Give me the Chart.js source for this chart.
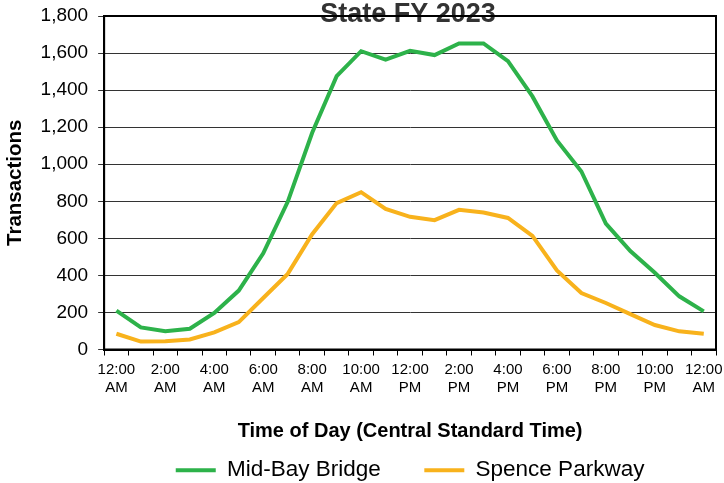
<!DOCTYPE html>
<html>
<head>
<meta charset="utf-8">
<script src="https://cdn.jsdelivr.net/npm/chart.js@4"></script>
<style>
  html, body { margin: 0; padding: 0; background: #fff; }
</style>
</head>
<body>
<canvas id="traffic_chart" width="724" height="483"></canvas>
<script>
// hourly categories, midnight to midnight
const hours = [
  "12:00 AM", "1:00 AM", "2:00 AM", "3:00 AM", "4:00 AM", "5:00 AM",
  "6:00 AM", "7:00 AM", "8:00 AM", "9:00 AM", "10:00 AM", "11:00 AM",
  "12:00 PM", "1:00 PM", "2:00 PM", "3:00 PM", "4:00 PM", "5:00 PM",
  "6:00 PM", "7:00 PM", "8:00 PM", "9:00 PM", "10:00 PM", "11:00 PM",
  "12:00 AM"
];

const midBay = [210, 119, 98, 112, 197, 318, 519, 797, 1170, 1475, 1610, 1565,
  1612, 1589, 1652, 1652, 1556, 1366, 1128, 961, 679, 531, 414, 287, 206];

const spence = [85, 43, 45, 54, 92, 148, 278, 408, 622, 790, 849, 759,
  716, 698, 754, 739, 710, 613, 427, 305, 251, 191, 132, 98, 85];

const yMax = 1800;
const yStep = 200;

const chartTitle = "State FY 2023";

Chart.defaults.font.family = "'Liberation Sans', Arial, sans-serif";
Chart.defaults.color = "#000";

// title sits half off the top edge in the original, so draw it by hand
const titlePlugin = {
  id: "topTitle",
  beforeDatasetsDraw(chart) {
    const { ctx, chartArea } = chart;
    ctx.save();
    ctx.font = "bold 27px 'Liberation Sans', Arial, sans-serif";
    ctx.fillStyle = "#333";
    ctx.textAlign = "center";
    ctx.textBaseline = "alphabetic";
    ctx.fillText(chartTitle, (chartArea.left + chartArea.right) / 2 - 2, 22);
    ctx.restore();
  }
};

const framePlugin = {
  id: "frame",
  afterDatasetsDraw(chart) {
    const { ctx, chartArea } = chart;
    ctx.save();
    ctx.strokeStyle = "#000";
    ctx.lineWidth = 2;
    ctx.strokeRect(chartArea.left, chartArea.top, chartArea.right - chartArea.left, chartArea.bottom - chartArea.top);
    ctx.restore();
  }
};

const ctx = document.getElementById("traffic_chart");

const chart = new Chart(ctx, {
  type: "line",
  data: {
    labels: hours,
    datasets: [
      {
        label: "Mid-Bay Bridge",
        data: midBay,
        borderColor: "#2DB24A",
        backgroundColor: "#2DB24A",
        borderWidth: 4,
        pointRadius: 0,
        tension: 0,
      },
      {
        label: "Spence Parkway",
        data: spence,
        borderColor: "#F8B21C",
        backgroundColor: "#F8B21C",
        borderWidth: 4,
        pointRadius: 0,
        tension: 0,
      },
    ],
  },
  options: {
    responsive: false,
    animation: false,
    layout: {
      padding: { top: 0, right: 0, left: 0, bottom: 0 }
    },
    plugins: {
      legend: {
        position: "bottom",
        fullSize: false,
        maxHeight: 30,
        labels: {
          boxWidth: 40,
          boxHeight: 4,
          padding: 6,
          font: { size: 22.5 },
          color: "#000",
          generateLabels(chart) {
            const items = Chart.defaults.plugins.legend.labels.generateLabels(chart);
            items.forEach((item, i) => {
              item.fillStyle = item.strokeStyle;
              item.lineWidth = 0;
              if (i === 0) item.text = item.text + "      ";
            });
            return items;
          }
        }
      },
      tooltip: { enabled: false }
    },
    scales: {
      x: {
        offset: true,
        afterFit(scale) { scale.paddingRight = 8; },
        grid: { offset: true, drawOnChartArea: false, tickLength: 6, color: "#000" },
        border: { color: "#000", width: 2 },
        ticks: {
          autoSkip: false,
          maxRotation: 0,
          padding: 6,
          color: "#000",
          font: { size: 15, lineHeight: 1.15 },
          callback: (v, i) => (i % 2 === 0 ? hours[i].split(" ") : "")
        },
        title: {
          display: true,
          text: "Time of Day (Central Standard Time)",
          color: "#000",
          font: { size: 20, weight: "bold" },
          padding: { top: 17, bottom: 10 }
        }
      },
      y: {
        min: 0,
        max: yMax,
        afterFit(scale) { scale.paddingTop = 16; },
        grid: { color: "#333", tickLength: 6 },
        border: { color: "#000", width: 2 },
        ticks: {
          stepSize: yStep,
          padding: 10,
          color: "#000",
          font: { size: 19 },
          callback: (v) => v.toLocaleString("en-US")
        },
        title: {
          display: true,
          text: "Transactions",
          color: "#000",
          font: { size: 20.5, weight: "bold" },
          padding: { top: 3, bottom: 3 }
        }
      }
    }
  },
  plugins: [titlePlugin, framePlugin]
});
</script>
</body>
</html>
